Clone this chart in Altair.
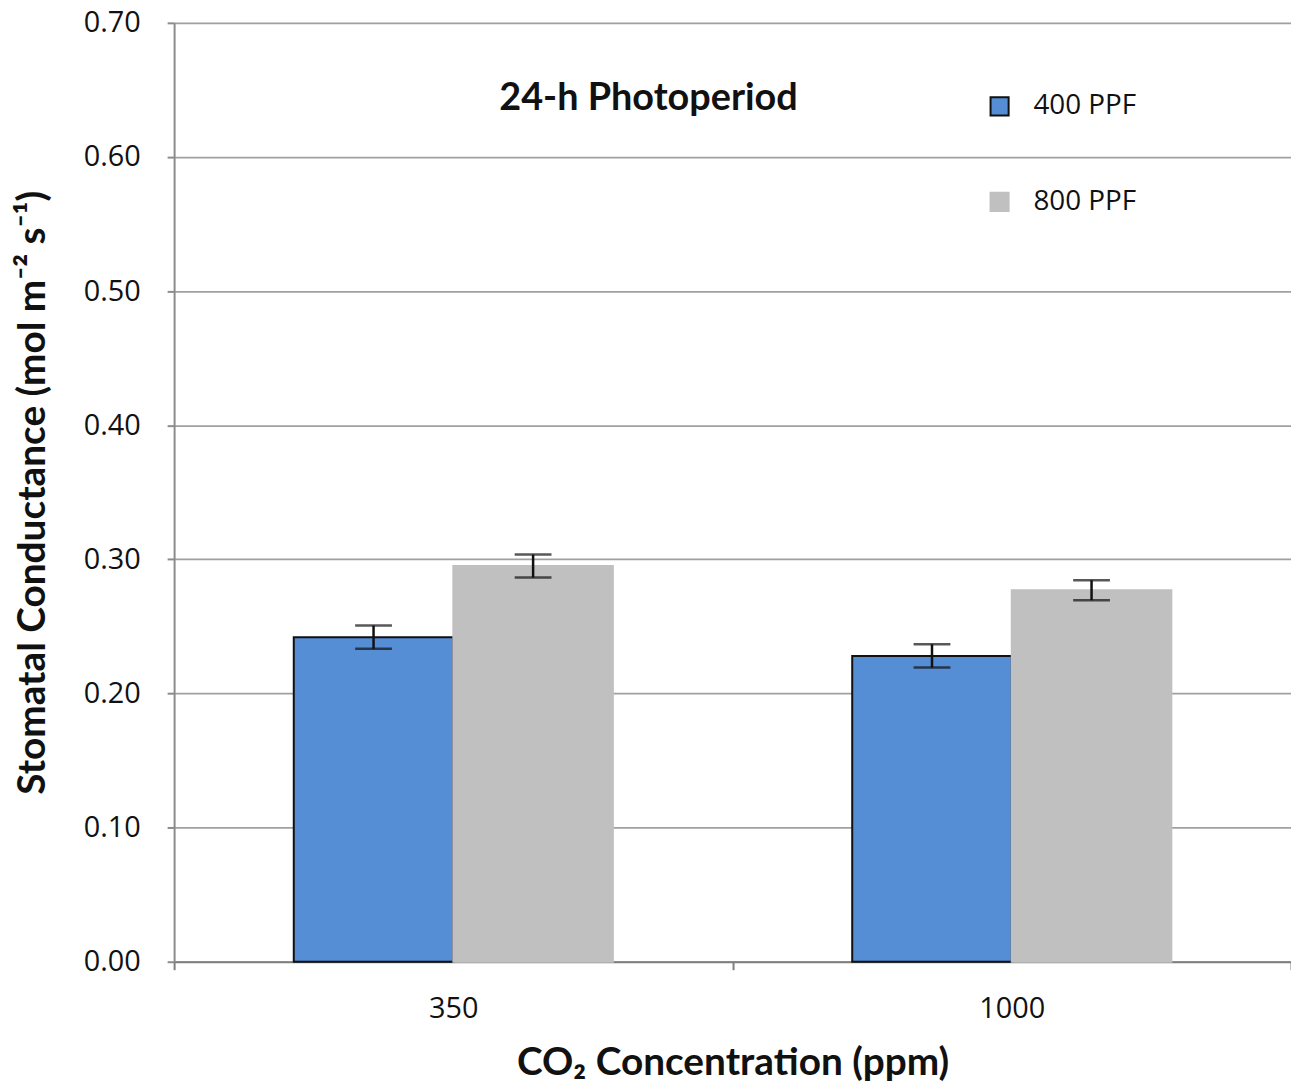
import altair as alt
import pandas as pd

co2 = ["350", "350", "1000", "1000"]
ppf = ["400 PPF", "800 PPF", "400 PPF", "800 PPF"]
means = [0.242, 0.295, 0.228, 0.277]
errs = [0.0087, 0.0086, 0.0087, 0.0075]
co2_order = ["350", "1000"]
ppf_order = ["400 PPF", "800 PPF"]
y_ticks = [0.0, 0.1, 0.2, 0.3, 0.4, 0.5, 0.6, 0.7]

df = pd.DataFrame({"co2": co2, "ppf": ppf, "mean": means, "err": errs})
df["lo"] = df["mean"] - df["err"]
df["hi"] = df["mean"] + df["err"]

W, H = 1123, 944
LABEL_FONT = "Open Sans"
TITLE_FONT = "Lato"

x_enc = alt.X(
    "co2:N",
    sort=co2_order,
    scale=alt.Scale(paddingInner=0, paddingOuter=0),
    axis=alt.Axis(
        title="CO₂ Concentration (ppm)",
        labelAngle=0,
        labelFontSize=29,
        labelFont=LABEL_FONT,
        labelColor="#111111",
        labelPadding=25,
        tickBand="extent",
        ticks=True,
        tickSize=8,
        tickColor="#7f7f7f",
        tickWidth=2,
        domainColor="#7f7f7f",
        domainWidth=2,
        grid=False,
        titleFont=TITLE_FONT,
        titleFontSize=39,
        titleFontWeight="bold",
        titleColor="#111111",
        titleX=W / 2,
        titleY=101,
        titleBaseline="middle",
    ),
)
xoff = alt.XOffset("ppf:N", sort=ppf_order, scale=alt.Scale(paddingInner=0, paddingOuter=0.75))

y_enc = alt.Y(
    "mean:Q",
    scale=alt.Scale(domain=[0, 0.7], nice=False),
    axis=alt.Axis(
        title="Stomatal Conductance (mol m⁻² s⁻¹)",
        values=y_ticks,
        format=".2f",
        labelFontSize=29,
        labelFont=LABEL_FONT,
        labelColor="#111111",
        labelPadding=27,
        tickSize=7,
        tickColor="#8c8c8c",
        tickWidth=2,
        domainColor="#8c8c8c",
        domainWidth=2,
        gridColor="#a0a0a0",
        gridWidth=1.8,
        titleFont=TITLE_FONT,
        titleFontSize=39,
        titleFontWeight="bold",
        titleColor="#111111",
        titleAngle=270,
        titleX=-142,
        titleY=H / 2,
        titleAlign="center",
        titleBaseline="middle",
    ),
)

legend_cfg = dict(
    title=None,
    orient="none",
    legendX=816,
    legendY=70,
    symbolType="square",
    symbolSize=330,
    symbolStrokeWidth=2,
    labelFontSize=28,
    labelFont=LABEL_FONT,
    labelColor="#111111",
    labelOffset=20,
    rowPadding=68,
)

base = alt.Chart(df)

bars = base.mark_bar(strokeWidth=2).encode(
    x=x_enc,
    xOffset=xoff,
    y=y_enc,
    fill=alt.Fill(
        "ppf:N",
        sort=ppf_order,
        scale=alt.Scale(domain=ppf_order, range=["#558ed5", "#c0c0c0"]),
        legend=alt.Legend(**legend_cfg),
    ),
    stroke=alt.Stroke(
        "ppf:N",
        sort=ppf_order,
        scale=alt.Scale(domain=ppf_order, range=["#111111", "#c0c0c0"]),
        legend=alt.Legend(**legend_cfg),
    ),
)

err_rule = base.mark_rule(color="#111111", strokeWidth=2.5).encode(
    x=alt.X("co2:N", sort=co2_order),
    xOffset=alt.XOffset("ppf:N", sort=ppf_order),
    y=alt.Y("lo:Q"),
    y2="hi:Q",
)
cap_lo = base.mark_tick(color="#111111", orient="horizontal", size=37, thickness=2.5).encode(
    x=alt.X("co2:N", sort=co2_order),
    xOffset=alt.XOffset("ppf:N", sort=ppf_order),
    y=alt.Y("lo:Q"),
)
cap_hi = base.mark_tick(color="#111111", orient="horizontal", size=37, thickness=2.5).encode(
    x=alt.X("co2:N", sort=co2_order),
    xOffset=alt.XOffset("ppf:N", sort=ppf_order),
    y=alt.Y("hi:Q"),
)

label = alt.Chart(pd.DataFrame({"t": ["24-h Photoperiod"]})).mark_text(
    font=TITLE_FONT, fontSize=38, fontWeight="bold", color="#111111", align="center", baseline="middle"
).encode(text="t:N", x=alt.value(477), y=alt.value(77))

chart = (
    alt.layer(bars, err_rule, cap_lo, cap_hi, label)
    .properties(
        width=W,
        height=H,
        autosize=alt.AutoSizeParams(type="none"),
        padding={"left": 167, "top": 12, "right": 0, "bottom": 118},
    )
    .configure_view(stroke=None)
    .configure(background="white")
)

chart.save("out.html", embed_options={"renderer": "svg", "actions": False})
